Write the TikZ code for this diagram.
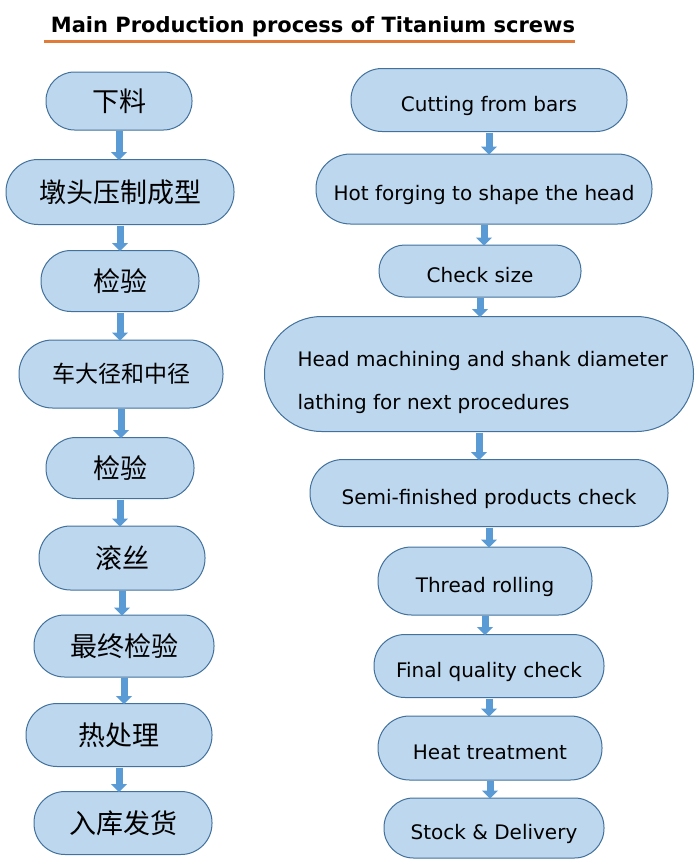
\documentclass[tikz,border=0pt]{standalone}
\usepackage{fontspec}
\setmainfont{DejaVu Sans}
\newfontfamily\cjk{Noto Sans CJK SC}
\usetikzlibrary{arrows.meta,calc}
\definecolor{boxfill}{HTML}{BDD7EE}
\definecolor{boxline}{HTML}{41719C}
\definecolor{arrfill}{HTML}{5B9BD5}
\definecolor{uline}{HTML}{E07B39}
\tikzset{
  stadium/.style n args={2}{draw=boxline, fill=boxfill, line width=1pt, inner sep=0pt,
    minimum width=#1pt, minimum height=#2pt, rounded corners=#2/2*1pt-0.5pt},
  zh/.style={font=\cjk\fontsize{27}{30}\selectfont},
  en/.style={font=\fontsize{20}{23}\selectfont, text height=23pt, text depth=0pt},
  arr/.style={draw=arrfill, line width=7pt, -{Triangle[width=16pt,length=8pt]}, shorten <=0.5pt, shorten >=-1pt}
}
\begin{document}
\begin{tikzpicture}[x=1pt,y=-1pt]
\useasboundingbox (0,0) rectangle (698,865);
\node[anchor=base, font=\bfseries\fontsize{21}{24}\selectfont] (title) at (313,32) {Main Production process of Titanium screws};
\draw[uline, line width=3pt] (44,41) coordinate (u1) -- (575,41) coordinate (u2);
% left column
\node[stadium={146}{58}, zh] (l1) at (119,101) {下料};
\node[stadium={228}{65}, zh] (l2) at (120,192) {墩头压制成型};
\node[stadium={158}{61}, zh] (l3) at (120,281) {检验};
\node[stadium={204}{68}, zh, font=\cjk\fontsize{23}{26}\selectfont] (l4) at (121,374) {车大径和中径};
\node[stadium={148}{61}, zh] (l5) at (120,468) {检验};
\node[stadium={166}{64}, zh] (l6) at (122,558) {滚丝};
\node[stadium={180}{62}, zh] (l7) at (124,646) {最终检验};
\node[stadium={186}{63}, zh] (l8) at (119,735) {热处理};
\node[stadium={178}{63}, zh] (l9) at (123,823) {入库发货};
% right column
\node[stadium={276}{63}, en] (r1) at (489,100) {Cutting from bars};
\node[stadium={336}{70}, en] (r2) at (484,189) {Hot forging to shape the head};
\node[stadium={202}{52}, en] (r3) at (480,271) {Check size};
\node[stadium={429}{115}] (r4) at (479,374) {};
\node[align=left, font=\fontsize{20}{43}\selectfont, anchor=west] (r4t) at ($(r4.west)+(30,8)$) {Head machining and shank diameter\\lathing for next procedures};
\node[stadium={358}{67}, en] (r5) at (489,493) {Semi-finished products check};
\node[stadium={214}{68}, en] (r6) at (485,581) {Thread rolling};
\node[stadium={230}{63}, en] (r7) at (489,666) {Final quality check};
\node[stadium={224}{64}, en] (r8) at (490,748) {Heat treatment};
\node[stadium={220}{60}, en] (r9) at (494,828) {Stock \& Delivery};
% arrows
\foreach \a/\b in {l1/l2,l2/l3,l3/l4,l4/l5,l5/l6,l6/l7,l7/l8,l8/l9,r1/r2,r2/r3,r3/r4,r4/r5,r5/r6,r6/r7,r7/r8,r8/r9}
  \draw[arr] (\a.south) -- (\a.south |- \b.north);
\end{tikzpicture}
\end{document}
